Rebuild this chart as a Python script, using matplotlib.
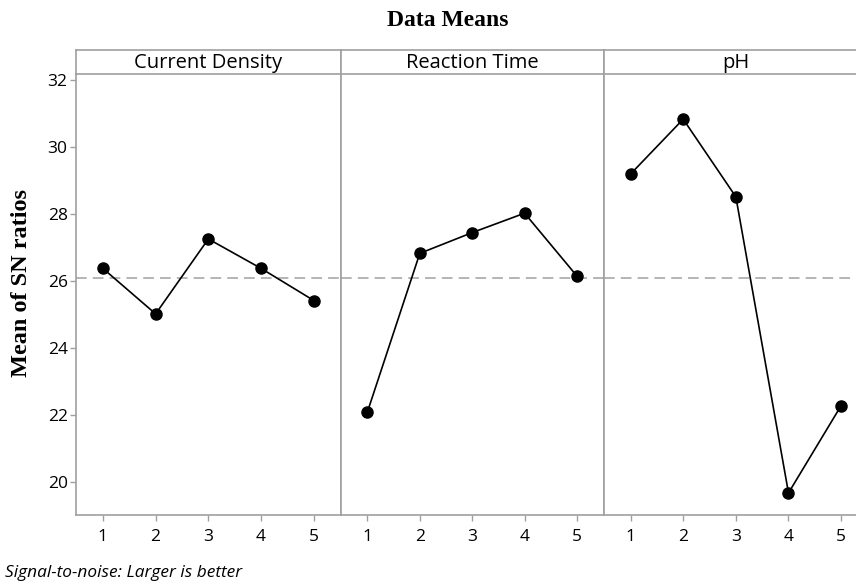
import matplotlib
matplotlib.use("Agg")
import matplotlib.pyplot as plt

# main effects data (means of SN ratios per level)
levels = [1, 2, 3, 4, 5]
factors = ["Current Density", "Reaction Time", "pH"]
current_density = [26.37, 25.01, 27.25, 26.37, 25.41]
reaction_time = [22.08, 26.82, 27.44, 28.02, 26.14]
ph = [29.19, 30.83, 28.51, 19.66, 22.27]
series = [current_density, reaction_time, ph]
yticks = [20, 22, 24, 26, 28, 30, 32]

grand_mean = sum(sum(s) for s in series) / sum(len(s) for s in series)

W, H = 856, 583
fig = plt.figure(figsize=(W / 100, H / 100), dpi=100)

gray = "#a0a0a0"
panel_edges = [76, 340.7, 603.7, 868]
ax_bottom, ax_top = 515, 74
strip_top = 50

for i, (name, vals) in enumerate(zip(factors, series)):
    x0, x1 = panel_edges[i], panel_edges[i + 1]
    ax = fig.add_axes([x0 / W, (H - ax_bottom) / H, (x1 - x0) / W, (ax_bottom - ax_top) / H])
    ax.plot(levels, vals, color="black", lw=1.2, marker="o", ms=8, zorder=3)
    ax.axhline(grand_mean, color=gray, lw=1.1, ls=(0, (7, 4)), zorder=1)
    ax.set_xlim(0.49, 5.51)
    ax.set_ylim(19.0, 32.18)
    ax.set_xticks(levels)
    ax.set_yticks(yticks)
    for sp in ax.spines.values():
        sp.set_color(gray)
        sp.set_linewidth(1.2)
    ax.spines["top"].set_visible(False)
    ax.tick_params(colors=gray, labelcolor="black", length=4, width=1, labelsize=12.5)
    ax.tick_params(axis="x", pad=6)
    ax.tick_params(axis="y", pad=2)
    for lab in ax.get_xticklabels() + ax.get_yticklabels():
        lab.set_fontfamily("Open Sans")
        lab.set_fontweight("medium")
    if i > 0:
        ax.tick_params(axis="y", left=False, labelleft=False)

    # strip header
    sx = fig.add_axes([x0 / W, (H - ax_top) / H, (x1 - x0) / W, (ax_top - strip_top) / H])
    sx.set_xticks([])
    sx.set_yticks([])
    for sp in sx.spines.values():
        sp.set_color(gray)
        sp.set_linewidth(1.2)
    sx.text(0.5, 0.45, name, ha="center", va="center", fontsize=14.5, fontweight="medium",
            fontfamily="Open Sans", transform=sx.transAxes)

fig.text(448 / W, 1 - 20 / H, "Data Means", ha="center", va="center",
         fontsize=17, fontweight="bold", fontfamily="Liberation Serif")
fig.text(22 / W, 1 - 283 / H, "Mean of SN ratios", ha="center", va="center", rotation=90,
         fontsize=17.5, fontweight="bold", fontfamily="Liberation Serif")
fig.text(5 / W, 1 - 573 / H, "Signal-to-noise: Larger is better", ha="left", va="center",
         fontsize=12.4, fontstyle="italic", fontfamily="Open Sans")

fig.savefig("out.png", dpi=100)
